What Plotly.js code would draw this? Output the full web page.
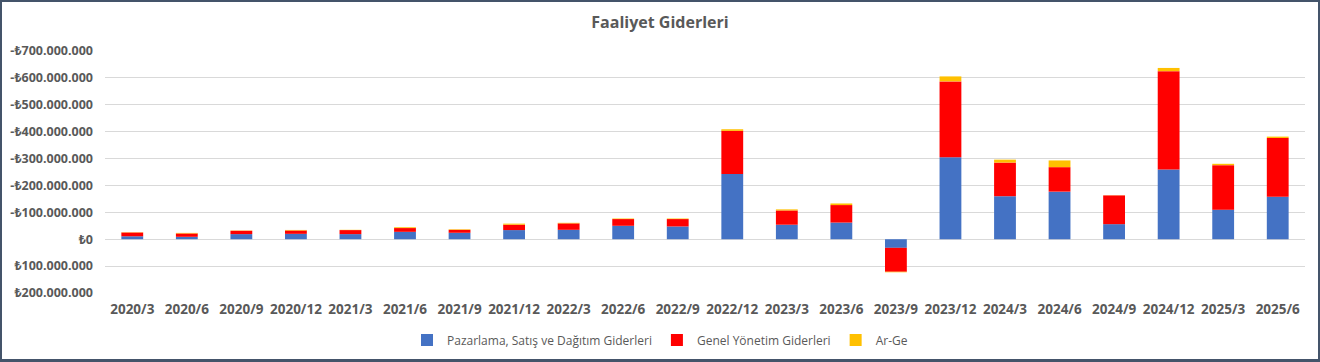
<!DOCTYPE html>
<html><head><meta charset="utf-8">
<script src="https://cdn.plot.ly/plotly-3.0.1.min.js"></script>
<style>
html,body{margin:0;padding:0;background:#fff;}
#frame{width:1320px;height:362px;box-sizing:border-box;border:2px solid #44546A;border-bottom-width:3px;overflow:hidden;background:#fff;}
#chart{width:1316px;height:357px;}
</style></head><body><div id="frame"><div id="chart"></div></div>
<script>
const periods = ["2020/3","2020/6","2020/9","2020/12","2021/3","2021/6","2021/9","2021/12","2022/3","2022/6","2022/9","2022/12","2023/3","2023/6","2023/9","2023/12","2024/3","2024/6","2024/9","2024/12","2025/3","2025/6"];
const pazarlama = [-11e6,-9e6,-19e6,-20e6,-19e6,-27.5e6,-24e6,-34e6,-35e6,-50e6,-47.5e6,-243e6,-54e6,-62e6,32e6,-305e6,-160e6,-177e6,-56e6,-259e6,-110e6,-158e6];
const genel = [-14e6,-12.5e6,-12.5e6,-12.5e6,-15e6,-14e6,-11e6,-20e6,-24e6,-25e6,-27.5e6,-160e6,-53e6,-65e6,89e6,-282e6,-125e6,-91e6,-107e6,-366e6,-165.5e6,-218.6e6];
const arge = [-1e6,-2e6,-1e6,-2e6,-1e6,-3e6,-2e6,-4e6,-2e6,-2e6,-2e6,-6e6,-4e6,-6e6,2e6,-18.5e6,-11e6,-25e6,-0.5e6,-12e6,-5e6,-5e6];
const seriesNames = ["Pazarlama, Satış ve Dağıtım Giderleri","Genel Yönetim Giderleri","Ar-Ge"];
const seriesColors = ["#4472C4","#FF0000","#FFC000"];
const tickValues = [-7e8,-6e8,-5e8,-4e8,-3e8,-2e8,-1e8,0,1e8,2e8];

function fmt(v){
  const s = Math.abs(v).toString().replace(/\B(?=(\d{3})+(?!\d))/g,'.');
  return (v<0?'-':'') + '₺' + s;
}
const FONT = "Open Sans, Noto Sans, sans-serif";
const GREY = "#595959";
const data = [pazarlama, genel, arge].map((vals,i)=>({
  type:'bar', x:periods, y:vals, name:seriesNames[i],
  marker:{color:seriesColors[i], line:{width:0}}
}));
const layout = {
  width:1316, height:357,
  margin:{l:103,r:13,t:49,b:66},
  paper_bgcolor:'#fff', plot_bgcolor:'#fff',
  barmode:'relative', bargap:0.6,
  title:{text:'<b>Faaliyet Giderleri</b>', font:{family:FONT,size:16,color:GREY}, x:0.5, xref:'container', xanchor:'center', y:1-20/357, yref:'container', yanchor:'middle'},
  font:{family:FONT,color:GREY,size:12},
  xaxis:{type:'category', showgrid:false, showline:false, ticks:'', ticklabelstandoff:6, tickfont:{family:FONT,size:13.5,color:GREY,weight:'bold'}, fixedrange:true},
  yaxis:{range:[2e8,-7e8], autorange:false, tickvals:tickValues, ticktext:tickValues.map(fmt),
    showgrid:true, gridcolor:'#D9D9D9', gridwidth:1, zeroline:true, zerolinecolor:'#D9D9D9', zerolinewidth:1,
    showline:false, ticks:'', ticklabelstandoff:11, tickfont:{family:FONT,size:12.5,color:GREY,weight:'bold'}, fixedrange:true},
  legend:{orientation:'h', x:0.5, xref:'container', xanchor:'center', y:1-338/357, yref:'container', yanchor:'middle',
    font:{family:FONT,size:12,color:GREY}, traceorder:'normal'},
  hovermode:false, showlegend:true
};
Plotly.newPlot('chart', data, layout, {displayModeBar:false, staticPlot:true});
</script></body></html>
